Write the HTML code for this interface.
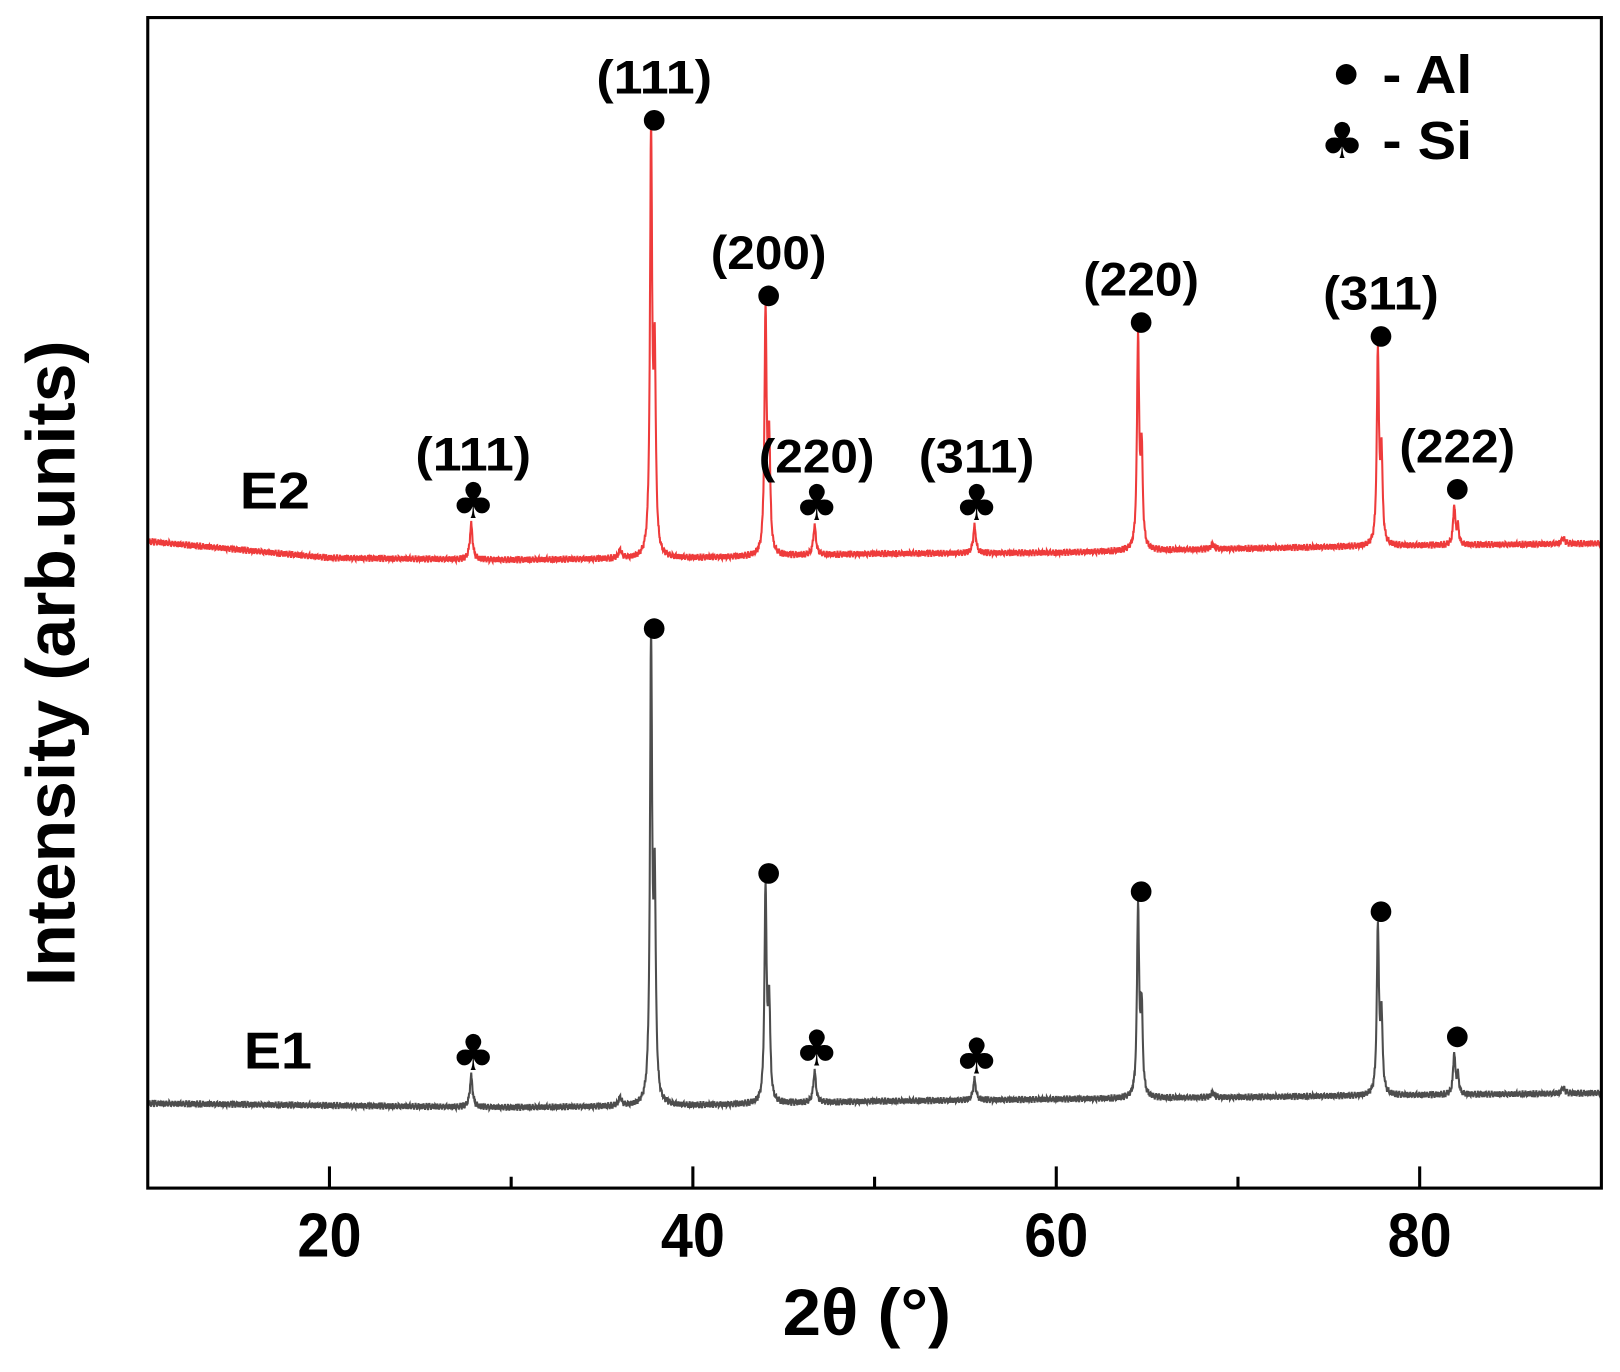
<!DOCTYPE html>
<html><head><meta charset="utf-8"><style>
html,body{margin:0;padding:0;background:#fff;}
svg{display:block;font-family:"Liberation Sans",Arial,sans-serif;font-weight:bold;}
</style></head><body>
<svg id="chart" width="1620" height="1372" viewBox="0 0 1568 1328" xmlns="http://www.w3.org/2000/svg">
<g id="plot"></g>
</svg>
<script>
// ---- data ----
const xTicks = [20, 40, 60, 80];
const xMinorTicks = [30, 50, 70];
// peak positions (2θ) and heights (arb. units above baseline)
const alPeaks = [37.7, 44.0, 64.5, 77.7, 81.9];
const siPeaks = [27.8, 46.7, 55.5];
const minorPeaks = [36.0, 68.6, 87.9];
const e2AlHeights = [408, 236, 205, 187, 38];
const e2SiHeights = [34, 28, 26];
const e1AlHeights = [446, 207, 184, 162, 40];
const e1SiHeights = [30, 30, 20];
const minorHeights = [8, 5, 6];
const e2Baseline = [[10, 524], [20, 540], [30, 542], [40, 540], [50, 536], [60, 535], [70, 531], [80, 528], [90, 526]];
const e1Baseline = [[10, 1068], [20, 1070], [30, 1072], [40, 1070], [50, 1066], [60, 1064], [70, 1062], [80, 1060], [90, 1058]];
const alLabels = ["(111)", "(200)", "(220)", "(311)", "(222)"];
const siLabels = ["(111)", "(220)", "(311)"];

// ---- axes ----
const X0 = 143, X1 = 1550, Y0 = 17, Y1 = 1150;
const xs = v => X0 + (v - 10) / 80 * (X1 - X0);
const NS = "http://www.w3.org/2000/svg";
const g = document.getElementById('plot');
function mk(tag, attrs, txt) {
  const e = document.createElementNS(NS, tag);
  for (const k in attrs) e.setAttribute(k, attrs[k]);
  if (txt !== undefined) e.textContent = txt;
  g.appendChild(e);
  return e;
}
function baseAt(b, x) {
  for (let i = 0; i < b.length - 1; i++) if (x <= b[i + 1][0]) {
    const t = (x - b[i][0]) / (b[i + 1][0] - b[i][0]);
    return b[i][1] + t * (b[i + 1][1] - b[i][1]);
  }
  return b[b.length - 1][1];
}
function pk(x, c, h, w) { const d = (x - c) / w; return h / (1 + d * d); }
function series(base, alH, siH) {
  let pts = [];
  for (let i = 0; i <= 4000; i++) {
    const x = 10 + i * 80 / 4000;
    let y = baseAt(base, x);
    alPeaks.forEach((c, j) => { y -= pk(x, c, alH[j], 0.07) + pk(x, c + 0.2, alH[j] * 0.45, 0.07); });
    siPeaks.forEach((c, j) => { y -= pk(x, c, siH[j], 0.09); });
    minorPeaks.forEach((c, j) => { y -= pk(x, c, minorHeights[j], 0.1); });
    y += Math.sin(i * 2.3) * 2 + Math.sin(i * 7.1) * 1.5;
    pts.push(xs(x).toFixed(1) + ',' + y.toFixed(1));
  }
  return pts.join(' ');
}
let e = mk('polyline', {points: series(e2Baseline, e2AlHeights, e2SiHeights), fill: 'none', stroke: '#ee3b3b', 'stroke-width': 2});


e = mk('polyline', {points: series(e1Baseline, e1AlHeights, e1SiHeights), fill: 'none', stroke: '#4d4d4d', 'stroke-width': 2});



// frame
e = mk('rect', {x: X0, y: Y0, width: X1 - X0, height: Y1 - Y0, fill: 'none', stroke: '#000', 'stroke-width': 3});


xTicks.forEach(t => {
  e = mk('line', {x1: xs(t), x2: xs(t), y1: Y1, y2: Y1 - 21, stroke: '#000', 'stroke-width': 3});
  
  
  e = mk('text', {x: xs(t), y: Y1 + 66, 'text-anchor': 'middle', 'font-size': 60, textLength: 62, lengthAdjust: 'spacingAndGlyphs'}, t);
  
  
});
xMinorTicks.forEach(t => {
  e = mk('line', {x1: xs(t), x2: xs(t), y1: Y1, y2: Y1 - 11, stroke: '#000', 'stroke-width': 3});
  
  
});
e = mk('text', {x: 839, y: 1292, 'text-anchor': 'middle', 'font-size': 64, textLength: 163, lengthAdjust: 'spacingAndGlyphs'}, '2θ (°)');


e = mk('text', {x: 0, y: 0, 'text-anchor': 'middle', 'font-size': 66, textLength: 625, lengthAdjust: 'spacingAndGlyphs', transform: 'translate(72,642) rotate(-90)'}, 'Intensity (arb.units)');



// markers
function markers(base, alH, siH, labels) {
  alPeaks.forEach((c, j) => {
    const yt = baseAt(base, c) - alH[j] * 1.0 - 6;
    const xp = xs(c) + 3;
    e = mk('circle', {cx: xp, cy: yt - 10, r: 10, fill: '#000'});
    
    
    if (labels) {
      e = mk('text', {x: xp, y: yt - 36, 'text-anchor': 'middle', 'font-size': 46, textLength: 112, lengthAdjust: 'spacingAndGlyphs'}, alLabels[j]);
      
      
    }
  });
  siPeaks.forEach((c, j) => {
    const yt = baseAt(base, c) - siH[j] - 6;
    const xp = xs(c) + 2;
    e = mk('text', {x: xp, y: yt, 'text-anchor': 'middle', 'font-size': 48, 'font-family': 'DejaVu Sans'}, '♣');
    
    
    if (labels) {
      e = mk('text', {x: xp, y: yt - 46, 'text-anchor': 'middle', 'font-size': 46, textLength: 112, lengthAdjust: 'spacingAndGlyphs'}, siLabels[j]);
      
      
    }
  });
}
markers(e2Baseline, e2AlHeights, e2SiHeights, true);
markers(e1Baseline, e1AlHeights, e1SiHeights, false);

e = mk('text', {x: 232, y: 492, 'font-size': 50, textLength: 68, lengthAdjust: 'spacingAndGlyphs'}, 'E2');


e = mk('text', {x: 236, y: 1034, 'font-size': 50, textLength: 66, lengthAdjust: 'spacingAndGlyphs'}, 'E1');



// legend
e = mk('circle', {cx: 1303, cy: 72, r: 10, fill: '#000'});


e = mk('text', {x: 1338, y: 90, 'font-size': 52, textLength: 87, lengthAdjust: 'spacingAndGlyphs'}, '- Al');


e = mk('text', {x: 1299, y: 153, 'text-anchor': 'middle', 'font-size': 48, 'font-family': 'DejaVu Sans'}, '♣');


e = mk('text', {x: 1338, y: 154, 'font-size': 52, textLength: 87, lengthAdjust: 'spacingAndGlyphs'}, '- Si');


</script>
</body></html>
